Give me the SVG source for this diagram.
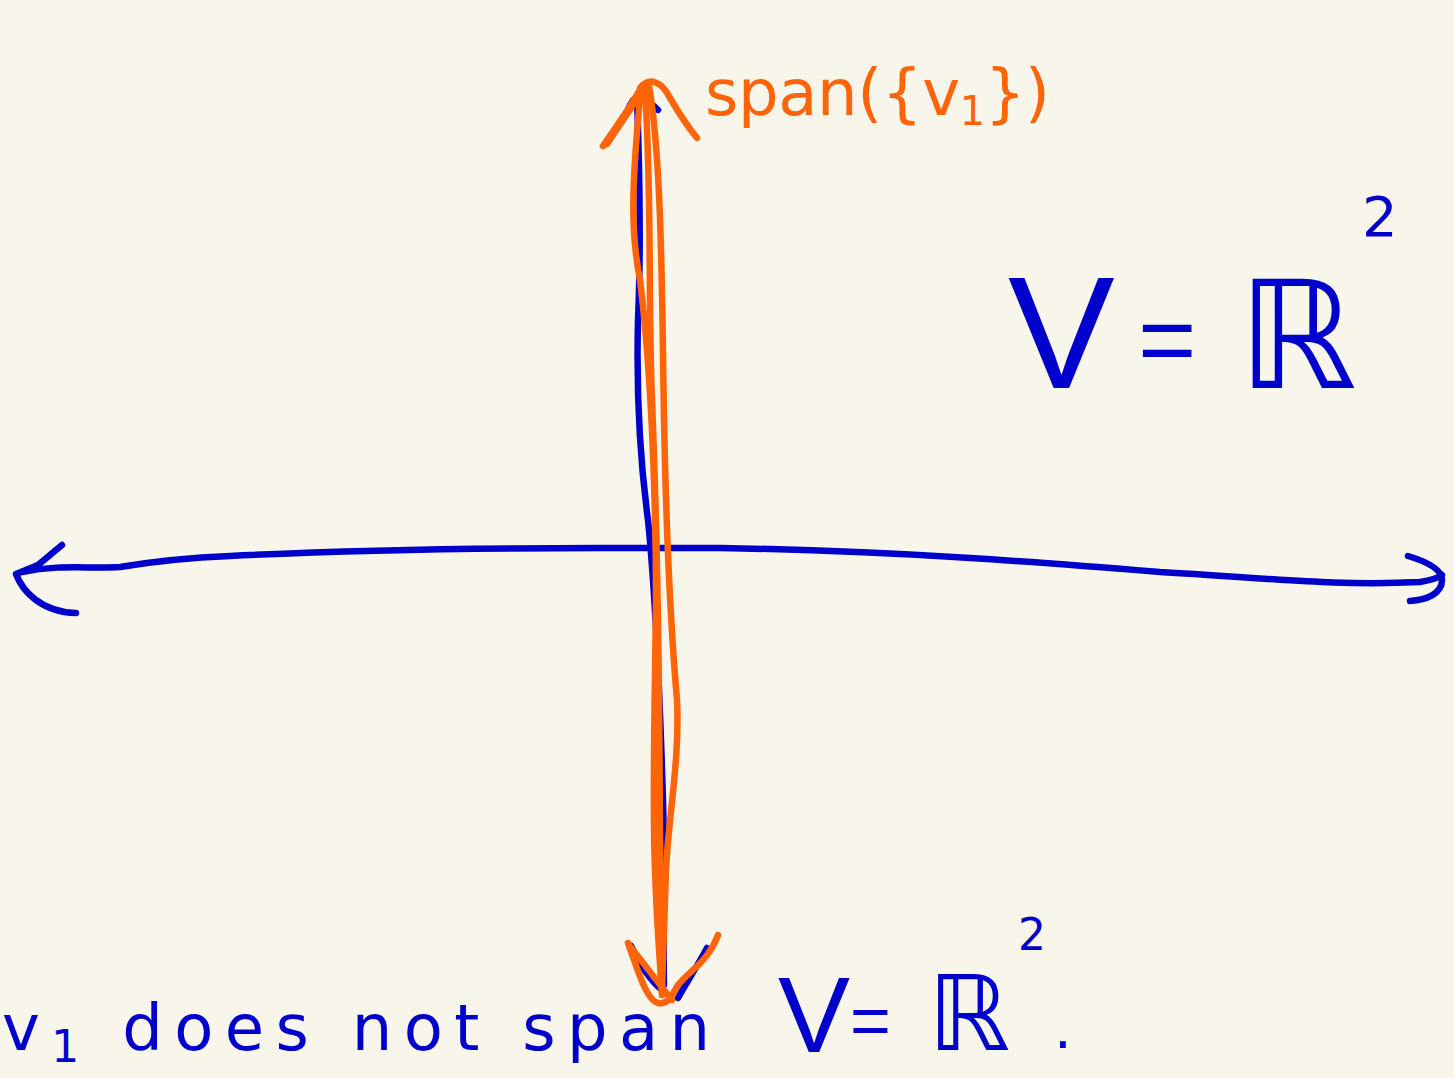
<svg xmlns="http://www.w3.org/2000/svg" width="1454" height="1078" viewBox="0 0 1454 1078">
<style>
.b{fill:none;stroke:#0000CC;stroke-width:6.5;stroke-linecap:round;stroke-linejoin:round}
.o{fill:none;stroke:#FF6408;stroke-width:6.5;stroke-linecap:round;stroke-linejoin:round}
.tb{fill:#0000CC;font-family:"DejaVu Sans",sans-serif}
.tl{fill:#0000CC;font-family:"Liberation Sans",sans-serif}
.to{fill:#FF6408;font-family:"DejaVu Sans",sans-serif}
</style>
<rect width="1454" height="1078" fill="#F8F6EA"/>
<g id="axes">
<path class="b" d="M22,572 C 60,564 90,569 120,567 C 150,562 180,558 230,556 C 330,551 450,548 600,548 L 720,548 C 900,551 1050,563 1160,572 C 1280,579 1340,586 1420,582 C 1432,580 1438,578 1442,575"/>
<path class="b" d="M62,545 L 38,565 L 16,574 C 22,590 40,612 76,613"/>
<path class="b" d="M1408,556 C 1428,562 1442,570 1442,580 C 1442,594 1426,600 1410,601"/>
<path class="b" d="M637,98 C 640,180 641,250 638,320 C 636,400 640,460 648,520 C 656,600 660,700 663,800 C 665,880 663,940 664,985"/>
<path class="b" d="M627,112 C 630,104 634,98 638,96 C 646,100 652,104 658,110"/>
<path class="b" d="M631,946 C 640,965 650,980 662,990 M678,998 C 688,980 698,965 707,948"/>
</g>
<g id="span-line">
<path class="o" d="M641,88 C 632,180 630,230 640,280 C 650,360 656,480 656,600 C 655,700 652,800 655,870 C 657,930 660,960 662,995"/>
<path class="o" d="M645,88 C 652,200 648,300 652,400 C 656,500 658,600 659,700 C 660,800 660,900 662,990"/>
<path class="o" d="M649,86 C 662,160 662,300 664,420 C 666,520 670,620 677,700 C 680,760 668,820 666,870 C 664,920 663,960 662,990"/>
<path class="o" d="M603,146 C 615,128 630,108 642,86 M607,144 C 620,124 634,104 646,86"/>
<path class="o" d="M640,88 C 650,76 662,82 670,98 C 680,115 688,127 697,138"/>
<path class="o" d="M628,943 C 638,970 646,1000 658,1003 C 668,1005 672,995 678,985 C 690,970 708,962 718,935"/>
<path class="o" d="M629,945 C 645,965 660,985 672,1000"/>
</g>
<g id="label-span">
<text class="to" x="705" y="115" font-size="64" textLength="345" lengthAdjust="spacing">span({v<tspan font-size="40" dy="10">1</tspan><tspan dy="-10">})</tspan></text>
</g>
<g id="label-V">
<text class="tl" x="1008" y="388" font-size="160">V</text>
<text class="tl" x="1138" y="374" font-size="100">=</text>
<text class="tb" x="1238" y="388" font-size="150">ℝ</text>
<text class="tb" x="1362" y="236" font-size="56">2</text>
</g>
<g id="caption">
<text class="tb" x="2" y="1050" font-size="64" textLength="708" lengthAdjust="spacing">v<tspan font-size="44" dy="12">1</tspan><tspan dy="-12"> does not span</tspan></text>
<text class="tl" x="778" y="1052" font-size="108">V</text>
<text class="tl" x="850" y="1045" font-size="70">=</text>
<text class="tb" x="928" y="1050" font-size="104">ℝ</text>
<text class="tb" x="1018" y="950" font-size="44">2</text>
<text class="tb" x="1054" y="1048" font-size="56">.</text>
</g>
</svg>
